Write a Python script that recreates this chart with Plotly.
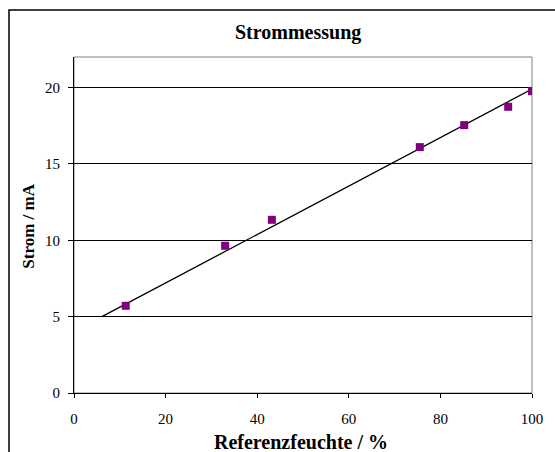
import plotly.graph_objects as go

# Data
ref_humidity = [11.3, 33.0, 43.2, 75.5, 85.2, 94.8, 100.0]
current_mA = [5.71, 9.64, 11.34, 16.10, 17.54, 18.74, 19.76]
trend_x = [6.1, 100.0]
trend_y = [5.0, 19.9]
x_ticks = [0, 20, 40, 60, 80, 100]
y_ticks = [0, 5, 10, 15, 20]

W, H = 555, 452
L, R, T, B = 74, 16, 57, 59
pw, ph = W - L - R, H - T - B

FONT = "Liberation Serif"


def px_x(xp):
    return (xp - L) / pw


def px_y(yp):
    return (H - B - yp) / ph


fig = go.Figure()
fig.add_trace(go.Scatter(x=trend_x, y=trend_y, mode="lines",
                         line=dict(color="black", width=1.3),
                         hoverinfo="skip", showlegend=False))
fig.add_trace(go.Scatter(x=ref_humidity, y=current_mA, mode="markers",
                         marker=dict(symbol="square", size=8, color="#800080",
                                     line=dict(width=0)),
                         showlegend=False))

# plot-area frame (gray)
fig.add_shape(type="rect", xref="x domain", yref="y domain", x0=0, x1=1, y0=0, y1=1,
              line=dict(color="#808080", width=1), layer="below")
# outer chart frame (extends past the right and bottom edges)
fig.add_shape(type="rect", xref="paper", yref="paper",
              x0=px_x(8), x1=px_x(W + 12), y0=px_y(H + 12), y1=px_y(10),
              line=dict(color="black", width=1.5), layer="below")

fig.add_annotation(text="<b>Strommessung</b>", xref="paper", yref="paper",
                   x=px_x(301), y=px_y(32), xanchor="center", yanchor="middle",
                   showarrow=False, font=dict(size=20, family=FONT, color="black"))
fig.add_annotation(text="<b>Referenzfeuchte / %</b>", xref="paper", yref="paper",
                   x=px_x(304), y=px_y(442), xanchor="center", yanchor="middle",
                   showarrow=False, font=dict(size=20, family=FONT, color="black"))
fig.add_annotation(text="<b>Strom / mA</b>", xref="paper", yref="paper",
                   x=px_x(27), y=px_y(226), xanchor="center", yanchor="middle",
                   textangle=-90,
                   showarrow=False, font=dict(size=17, family=FONT, color="black"))

fig.update_layout(
    width=W, height=H,
    margin=dict(l=L, r=R, t=T, b=B, pad=0),
    paper_bgcolor="white", plot_bgcolor="white",
    font=dict(family=FONT, color="black", size=15),
    xaxis=dict(range=[0, 100], tickvals=x_ticks, showgrid=False, zeroline=False,
               showline=True, linecolor="black", linewidth=1,
               ticks="outside", ticklen=4, tickcolor="black",
               ticklabelstandoff=8,
               tickfont=dict(size=15, family=FONT, color="black")),
    yaxis=dict(range=[0, 22], tickvals=y_ticks, showgrid=True, gridcolor="black",
               gridwidth=1, zeroline=False,
               showline=True, linecolor="black", linewidth=1,
               ticks="outside", ticklen=5, tickcolor="black",
               ticklabelstandoff=5,
               tickfont=dict(size=15, family=FONT, color="black")),
)

fig.write_html(
    "out.html",
    config={"displayModeBar": False},
    post_script="document.body.style.margin='0';document.body.style.overflow='hidden';",
)
